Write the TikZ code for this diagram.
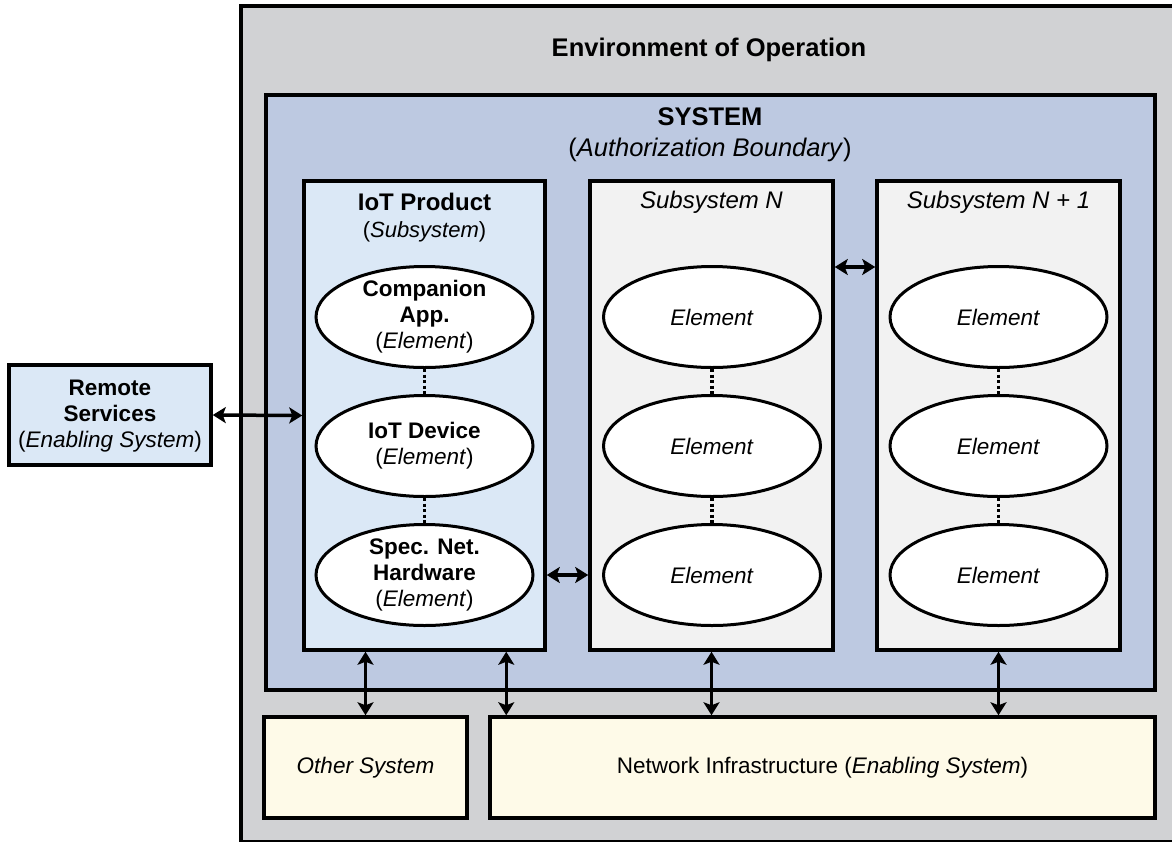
\documentclass[tikz,border=0pt]{standalone}
\usepackage{fontspec}
\setmainfont{Liberation Sans}
\usetikzlibrary{arrows.meta,shapes.geometric}

\definecolor{envgray}{RGB}{209,210,212}
\definecolor{sysblue}{RGB}{189,201,225}
\definecolor{prodblue}{RGB}{219,232,246}
\definecolor{subgray}{RGB}{242,242,242}
\definecolor{infrayellow}{RGB}{254,250,232}

\tikzset{
	box/.style={draw, rectangle, line width=3.5pt, inner sep=0pt},
	elem/.style={draw, ellipse, line width=3pt, fill=white, inner sep=0pt, minimum width=217pt, minimum height=101pt},
	txt/.style={align=center, inner sep=0pt, font=\fontsize{22.5}{26}\selectfont},
	headtext/.style={align=center, inner sep=0pt, font=\fontsize{25.5}{30}\selectfont},
	subtext/.style={align=center, inner sep=0pt, font=\fontsize{24}{28}\selectfont},
	link/.style={line width=3.5pt, {Stealth[length=13pt,width=16pt,inset=3pt]}-{Stealth[length=13pt,width=16pt,inset=3pt]}},
	gap/.style={line width=3.5pt, dash pattern=on 3pt off 2.5pt}
}

\begin{document}
\begin{tikzpicture}[x=1pt, y=-1pt]
			%%%%% START %%%%%
			
			\useasboundingbox (0,0) rectangle (1172,841);
			\clip (0,0) rectangle (1172,841);
			
			\node[box, fill=envgray, minimum width=936pt, minimum height=836pt] (env) at (709,424) {};
			\node[headtext] (envtitle) at (709,50) {\textbf{Environment of Operation}};
			
			\node[box, fill=sysblue, minimum width=889pt, minimum height=595pt] (sys) at (710.5,392.5) {};
			\node[headtext] (systitle) at (710,117) {\textbf{SYSTEM}};
			\node[headtext] (sysnote) at (710,150) {(\textit{Authorization Boundary})};
			
			\node[box, fill=prodblue, minimum width=202pt, minimum height=100pt] (remote) at (110,415) {};
			\node[txt] (remotetext) at (110,416) {\textbf{Remote}\\\textbf{Services}\\(\textit{Enabling System})};
			
			\node[box, fill=prodblue, minimum width=241pt, minimum height=469pt] (iot) at (424.5,415.5) {};
			\node[subtext] (iottitle) at (424.5,202) {\textbf{IoT Product}};
			\node[txt, font=\fontsize{22}{26}\selectfont] (iotnote) at (424.5,232) {(\textit{Subsystem})};
			
			\node[box, fill=subgray, minimum width=243pt, minimum height=469pt] (subN) at (711.5,415.5) {};
			\node[subtext] (subNtitle) at (711.5,202) {\textit{Subsystem N}};
			
			\node[box, fill=subgray, minimum width=243pt, minimum height=469pt] (subNN) at (998.5,415.5) {};
			\node[subtext] (subNNtitle) at (998.5,202) {\textit{Subsystem N + 1}};
			
			\node[box, fill=infrayellow, minimum width=203pt, minimum height=101pt] (other) at (365.5,767.5) {};
			\node[txt] (othertext) at (365.5,768) {\textit{Other System}};
			
			\node[box, fill=infrayellow, minimum width=665pt, minimum height=101pt] (net) at (822.5,767.5) {};
			\node[txt] (nettext) at (822.5,768) {Network Infrastructure (\textit{Enabling System})};
			
			% elements of the IoT product
			\node[elem, label={[txt]center:\textbf{Companion}\\\textbf{App.}\\(\textit{Element})}] (comp) at (424.5,317) {};
			\node[elem, label={[txt]center:\textbf{IoT Device}\\(\textit{Element})}] (dev) at (424.5,446) {};
			\node[elem, label={[txt]center:\textbf{Spec. Net.}\\\textbf{Hardware}\\(\textit{Element})}] (spec) at (424.5,575) {};
			
			\node[elem, label={[txt]center:\textit{Element}}] (elNa) at (712,317) {};
			\node[elem, label={[txt]center:\textit{Element}}] (elNb) at (712,446) {};
			\node[elem, label={[txt]center:\textit{Element}}] (elNc) at (712,575) {};
			
			\node[elem, label={[txt]center:\textit{Element}}] (elNNa) at (998.5,317) {};
			\node[elem, label={[txt]center:\textit{Element}}] (elNNb) at (998.5,446) {};
			\node[elem, label={[txt]center:\textit{Element}}] (elNNc) at (998.5,575) {};
			
			\draw[gap] (comp.south) -- (dev.north);
			\draw[gap] (dev.south) -- (spec.north);
			\draw[gap] (elNa.south) -- (elNb.north);
			\draw[gap] (elNb.south) -- (elNc.north);
			\draw[gap] (elNNa.south) -- (elNNb.north);
			\draw[gap] (elNNb.south) -- (elNNc.north);
			
			% connections
			\coordinate (netleft) at ([xshift=18pt]net.north west);
			
			\draw[link] (remote.east) -- (iot.west);
			\draw[link] (iot.east |- spec) -- (subN.west |- spec);
			\draw[link] ([yshift=-2pt]subN.east |- elNa.north) -- ([yshift=-2pt]subNN.west |- elNa.north);
			\draw[link] (iot.south -| other.north) -- (other.north);
			\draw[link] (iot.south -| netleft) -- (netleft);
			\draw[link] (subN.south) -- (subN.south |- net.north);
			\draw[link] (subNN.south) -- (subNN.south |- net.north);
			
			%%%%% END %%%%%
\end{tikzpicture}
\end{document}
